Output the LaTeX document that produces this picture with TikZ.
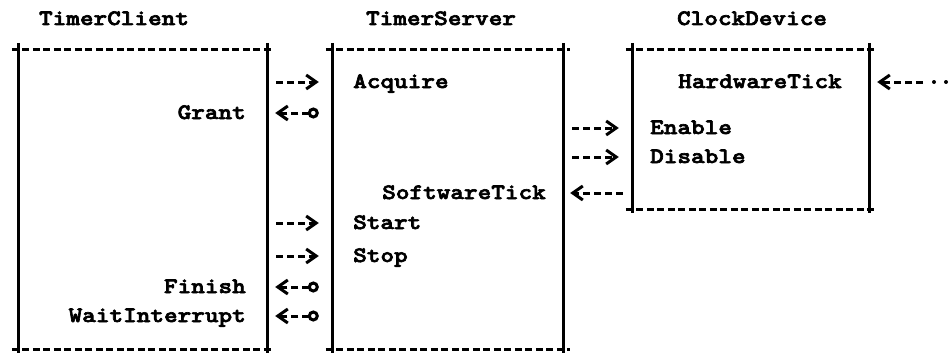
\documentclass[tikz,border=0pt]{standalone}
\usepackage{fontspec}
\newfontfamily\codefont{lmmonolt10-bold.otf}[FakeStretch=1.18,FakeBold=3]
\usetikzlibrary{arrows.meta,calc}

\begin{document}
\begin{tikzpicture}[
	x=1pt, y=-1pt,
	every node/.style={ font=\codefont\fontsize{22}{26}\selectfont, inner sep=0pt, text height=13pt, text depth=1pt },
	ibox/.style={ rectangle, inner sep=0pt, text height=0pt, text depth=0pt },
	side/.style={ line width=3.2pt },
	rim/.style={ line width=2.6pt, dash pattern=on 7pt off 3.5pt },
	call/.style={ line width=3pt, dash pattern=on 7pt off 4pt, shorten <=9pt, shorten >=14pt,
		-{Straight Barb[length=10pt,width=14pt,line width=3pt]} },
	reply/.style={ line width=3pt, dash pattern=on 7pt off 4pt, shorten <=14pt, shorten >=8pt,
		{Circle[open,length=11pt,width=11pt,line width=3pt]}-{Straight Barb[length=10pt,width=14pt,line width=3pt]} }
]

\useasboundingbox (0,0) rectangle (952,353);

% the three modules
\node[ibox, minimum width=248pt, minimum height=299pt] at (143,199.5) (client) {};
\node[ibox, minimum width=230pt, minimum height=299pt] at (448,199.5) (server) {};
\node[ibox, minimum width=236pt, minimum height=159pt] at (751,129.5) (clock) {};

\foreach \b in {client,server,clock} {
	\draw[side] ($(\b.north west)+(0,-7)$) to ($(\b.south west)+(0,4)$);
	\draw[side] ($(\b.north east)+(0,-7)$) to ($(\b.south east)+(0,4)$);
	\draw[rim] ($(\b.north west)+(-7,0)$) to ($(\b.north east)+(7,0)$);
	\draw[rim] ($(\b.south west)+(-7,0)$) to ($(\b.south east)+(7,0)$);
}

\node at (114,19) (clientname) {TimerClient};
\node at (441,19) (servername) {TimerServer};
\node at (752,19) (clockname) {ClockDevice};

% entries
\node[anchor=east] at (246,113) (grant) {Grant};
\node[anchor=east] at (246,287) (finish) {Finish};
\node[anchor=east] at (246,316) (waitint) {WaitInterrupt};

\node[anchor=west] at (353,82) (acquire) {Acquire};
\node[anchor=east] at (546,193) (swtick) {SoftwareTick};
\node[anchor=west] at (353,223) (start) {Start};
\node[anchor=west] at (353,256) (stop) {Stop};

\node[anchor=east] at (842,82) (hwtick) {HardwareTick};
\node[anchor=west] at (650,128) (enable) {Enable};
\node[anchor=west] at (650,157) (disable) {Disable};

% client <-> server
\draw[call] (client.east |- acquire) to (server.west |- acquire);
\draw[reply] (server.west |- grant) to (client.east |- grant);
\draw[call] (client.east |- start) to (server.west |- start);
\draw[call] (client.east |- stop) to (server.west |- stop);
\draw[reply] (server.west |- finish) to (client.east |- finish);
\draw[reply] (server.west |- waitint) to (client.east |- waitint);

% server <-> clock
\draw[call] (server.east |- enable) to (clock.west |- enable);
\draw[call] (server.east |- disable) to (clock.west |- disable);
\draw[call, shorten <=10pt, shorten >=7pt] (clock.west |- swtick) to (server.east |- swtick);

% outside source of the hardware tick
\coordinate (hwsrc) at (946,82);
\coordinate (hwmid) at (923,82);
\draw[call, shorten <=0pt, shorten >=8pt] (hwmid) to (clock.east |- hwtick);
\draw[line width=4pt, line cap=round, dash pattern=on 0pt off 12pt] ($(hwmid)+(11,0)$) to (hwsrc);

\end{tikzpicture}
\end{document}
